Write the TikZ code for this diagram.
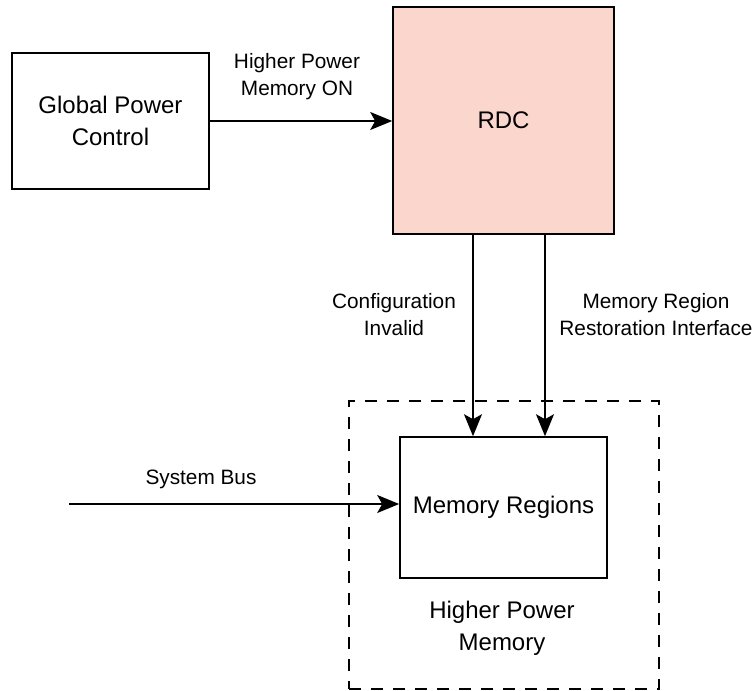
\documentclass[tikz,border=0pt]{standalone}
\usepackage{fontspec}
\setmainfont{Liberation Sans}
\usetikzlibrary{arrows.meta}
\definecolor{rdcpink}{HTML}{FAD6CD}
\tikzset{
  box/.style={draw=black, line width=1.6pt, inner sep=0pt, align=center,
    font=\fontsize{24}{32}\selectfont},
  lbl/.style={inner sep=0pt, align=center, font=\fontsize{20.8}{27}\selectfont},
  arr/.style={line width=1.6pt, -{Stealth[length=22pt, width=18pt, inset=5pt]}},
  grp/.style={draw=black, line width=1.6pt, dash pattern=on 12pt off 10pt},
}
\begin{document}
\begin{tikzpicture}[x=1pt, y=-1pt]
\useasboundingbox (0,0) rectangle (756,691);
\node[box, minimum width=197pt, minimum height=136pt] (gpc) at (110.5,121) {Global Power\\Control};
\node[box, fill=rdcpink, minimum width=221pt, minimum height=227pt] (rdc) at (503.5,120.5) {RDC};
\node[grp, minimum width=310pt, minimum height=288pt] (hpm) at (504,545) {};
\node[box, minimum width=207pt, minimum height=141pt] (mr) at (503.5,507.5) {Memory Regions};
\node[lbl, font=\fontsize{24}{32}\selectfont] (hpmlbl) at (502,628) {Higher Power\\Memory};
\coordinate (c1) at (473,0);
\coordinate (c2) at (545,0);
\coordinate (bus) at (69,504);
\draw[arr] (gpc.east) -- (rdc.west |- gpc.east);
\draw[arr] (rdc.south -| c1) -- (mr.north -| c1);
\draw[arr] (rdc.south -| c2) -- (mr.north -| c2);
\draw[arr] (bus) -- (bus -| mr.west);
\node[lbl] (l1) at (297,76.5) {Higher Power\\Memory ON};
\node[lbl] (l2) at (394,314.5) {Configuration\\Invalid};
\node[lbl] (l3) at (656,314.5) {Memory Region\\Restoration Interface};
\node[lbl] (l4) at (201,479) {System Bus};
\end{tikzpicture}
\end{document}
